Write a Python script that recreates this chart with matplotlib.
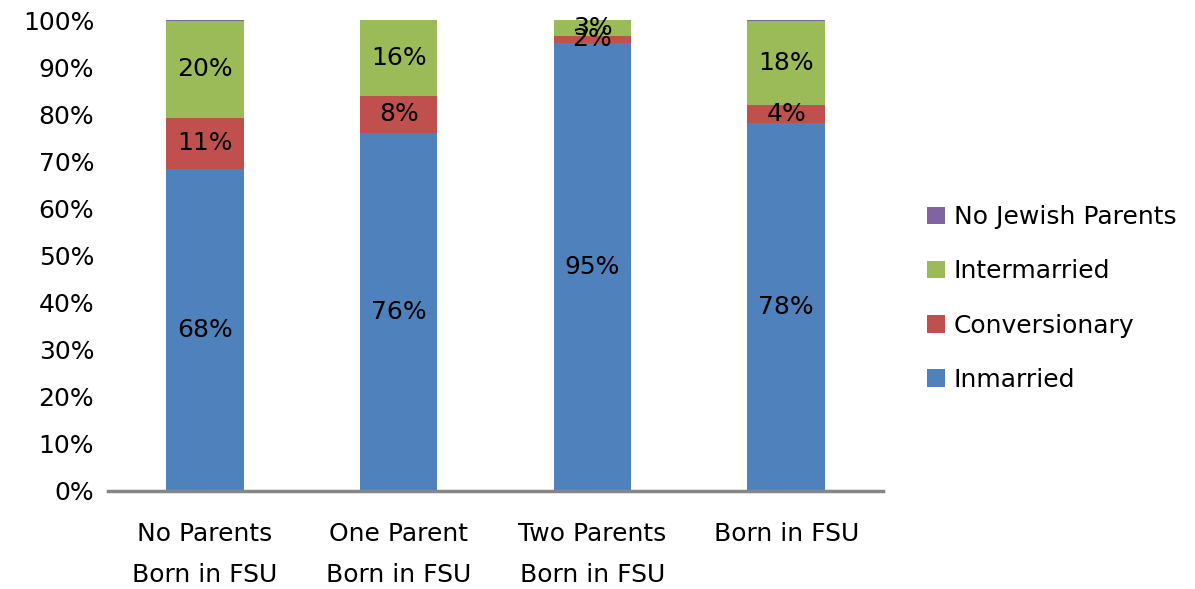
import matplotlib
matplotlib.use("Agg")
import matplotlib.pyplot as plt
import numpy as np

plt.rcParams['font.family'] = ['DejaVu Sans']

categories = ["No Parents\nBorn in FSU", "One Parent\nBorn in FSU", "Two Parents\nBorn in FSU", "Born in FSU"]
inmarried = [68.4, 76.0, 95.1, 78.1]
conversionary = [10.9, 7.9, 1.6, 3.9]
intermarried = [20.4, 16.1, 3.3, 17.7]
no_jewish = [0.3, 0.0, 0.0, 0.3]

series = [("Inmarried", inmarried, "#4F81BD"),
          ("Conversionary", conversionary, "#C0504D"),
          ("Intermarried", intermarried, "#9BBB59"),
          ("No Jewish Parents", no_jewish, "#8064A2")]

FS = 18
fig = plt.figure(figsize=(11.95, 5.89), dpi=100)
ax = fig.add_axes([0.0904, 0.1664, 0.6486, 0.7996])
x = np.arange(len(categories))
bottom = np.zeros(len(categories))
handles = []
for name, vals, col in series:
    vals = np.array(vals)
    b = ax.bar(x, vals, 0.4, bottom=bottom, color=col, label=name, edgecolor='none')
    handles.append(b)
    if name != "No Jewish Parents":
        for xi, v, bt in zip(x, vals, bottom):
            if v > 0:
                ax.text(xi, bt + v / 2, f"{v:.0f}%", ha='center', va='center', fontsize=FS, color='black')
    bottom += vals

ax.set_xlim(-0.5, len(categories) - 0.5)
ax.set_ylim(0, 100)
ax.set_yticks(np.arange(0, 101, 10))
ax.set_yticklabels([f"{t}%" for t in range(0, 101, 10)], fontsize=FS)
ax.set_xticks(x)
ax.set_xticklabels(categories, fontsize=FS, linespacing=1.9)
ax.tick_params(axis='both', length=0)
ax.tick_params(axis='x', pad=22)
ax.tick_params(axis='y', pad=10)
for s in ['top', 'right', 'left']:
    ax.spines[s].set_visible(False)
ax.spines['bottom'].set_color('#868686')
ax.spines['bottom'].set_linewidth(2.5)

leg = fig.legend(handles[::-1], [s[0] for s in series][::-1], loc='center left',
                 bbox_to_anchor=(0.776, 0.493), frameon=False, fontsize=FS,
                 handlelength=0.7, handleheight=0.7, labelspacing=1.21, handletextpad=0.35,
                 borderaxespad=0, borderpad=0)

fig.savefig("out.png", dpi=100)
